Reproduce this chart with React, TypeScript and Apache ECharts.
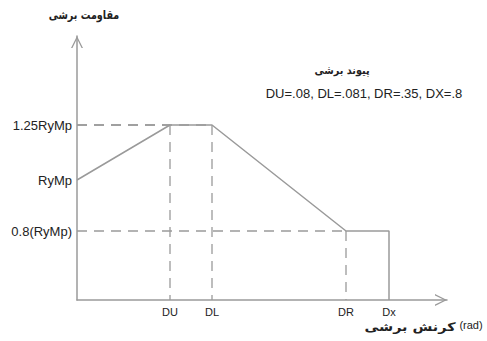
import React, { useEffect, useRef } from "react";
import * as echarts from "echarts";

// Schematic positions (diagram is not to scale)
const xTickNames = ["DU", "DL", "DR", "Dx"];
const xTickPos = [93, 135, 269, 312];
const yTickNames = ["0.8(RyMp)", "RyMp", "1.25RyMp"];
const yTickPos = [69, 120, 175];

// Backbone curve points: [x, y]
const curveX = [0, 93, 135, 269, 312, 312];
const curveY = [120, 175, 175, 69, 69, 0];

// Dashed guide points (corner points of the curve)
const guideX = [93, 135, 269];
const guideY = [175, 175, 69];

const X_MAX = 370;
const Y_MAX = 264;

const GRAY = "#9a9a9a";
const TEXT = "#222";
const LATIN = "'Liberation Sans', Arial, sans-serif";
const ARABIC = "'DejaVu Sans', sans-serif";

const chevron = "path://M5,0 L10,10 L8.8,10 L5,2.2 L1.2,10 L0,10 Z";

export default function App() {
  const ref = useRef<HTMLDivElement>(null);
  useEffect(() => {
    if (!ref.current) return;
    const chart = echarts.init(ref.current, undefined, { renderer: "svg" });
    const curve = curveX.map((x, i) => [x, curveY[i]]);
    const dashSeries: any[] = [];
    guideX.forEach((gx, i) => {
      const gy = guideY[i];
      dashSeries.push({
        type: "line",
        data: [[0, gy], [gx, gy]],
        symbol: "none",
        silent: true,
        lineStyle: { color: GRAY, width: 1.3, type: [10, 7] },
      });
      dashSeries.push({
        type: "line",
        data: [[gx, gy], [gx, 0]],
        symbol: "none",
        silent: true,
        lineStyle: { color: GRAY, width: 1.3, type: [10, 7] },
      });
    });
    chart.setOption({
      animation: false,
      grid: { left: 77, right: 40, top: 36, bottom: 41 },
      xAxis: {
        type: "value",
        min: 0,
        max: X_MAX,
        splitLine: { show: false },
        axisTick: { show: false },
        axisLine: {
          show: true,
          lineStyle: { color: GRAY, width: 1.5 },
          symbol: ["none", chevron],
          symbolSize: [15, 12],
          symbolOffset: [0, -6],
        },
        axisLabel: {
          customValues: xTickPos,
          formatter: (v: number) => xTickNames[xTickPos.indexOf(v)] ?? "",
          color: TEXT,
          fontSize: 11,
          fontFamily: LATIN,
          margin: 6,
        },
      },
      yAxis: {
        type: "value",
        min: 0,
        max: Y_MAX,
        splitLine: { show: false },
        axisTick: { show: false },
        axisLine: {
          show: true,
          lineStyle: { color: GRAY, width: 1.5 },
          symbol: ["none", chevron],
          symbolSize: [15, 12],
          symbolOffset: [0, -6],
        },
        axisLabel: {
          customValues: yTickPos,
          formatter: (v: number) => yTickNames[yTickPos.indexOf(v)] ?? "",
          color: TEXT,
          fontSize: 13,
          fontFamily: LATIN,
          margin: 5,
        },
      },
      graphic: [
        {
          type: "text",
          x: 84,
          y: 15,
          scaleX: 0.8,
          style: {
            text: "مقاومت برشی",
            font: `bold 12px ${ARABIC}`,
            fill: TEXT,
            align: "center",
            verticalAlign: "middle",
          },
        },
        {
          type: "text",
          x: 342,
          y: 70,
          scaleX: 0.88,
          style: {
            text: "پیوند برشی",
            font: `bold 11px ${ARABIC}`,
            fill: TEXT,
            align: "center",
            verticalAlign: "middle",
          },
        },
        {
          type: "text",
          x: 364,
          y: 93,
          style: {
            text: "DU=.08, DL=.081, DR=.35, DX=.8",
            font: `13px ${LATIN}`,
            fill: TEXT,
            align: "center",
            verticalAlign: "middle",
          },
        },
        {
          type: "text",
          x: 410,
          y: 327,
          scaleX: 1.2,
          style: {
            text: "کرنش برشی",
            font: `bold 12px ${ARABIC}`,
            fill: TEXT,
            align: "center",
            verticalAlign: "middle",
          },
        },
        {
          type: "text",
          x: 471,
          y: 325,
          style: {
            text: "(rad)",
            font: `11px ${LATIN}`,
            fill: TEXT,
            align: "center",
            verticalAlign: "middle",
          },
        },
      ],
      series: [
        ...dashSeries,
        {
          type: "line",
          data: curve,
          symbol: "none",
          silent: true,
          lineStyle: { color: GRAY, width: 1.5 },
          z: 5,
        },
      ],
    });
    return () => chart.dispose();
  }, []);
  return <div ref={ref} style={{ width: 487, height: 341, position: "absolute", left: 0, top: 0 }} />;
}
